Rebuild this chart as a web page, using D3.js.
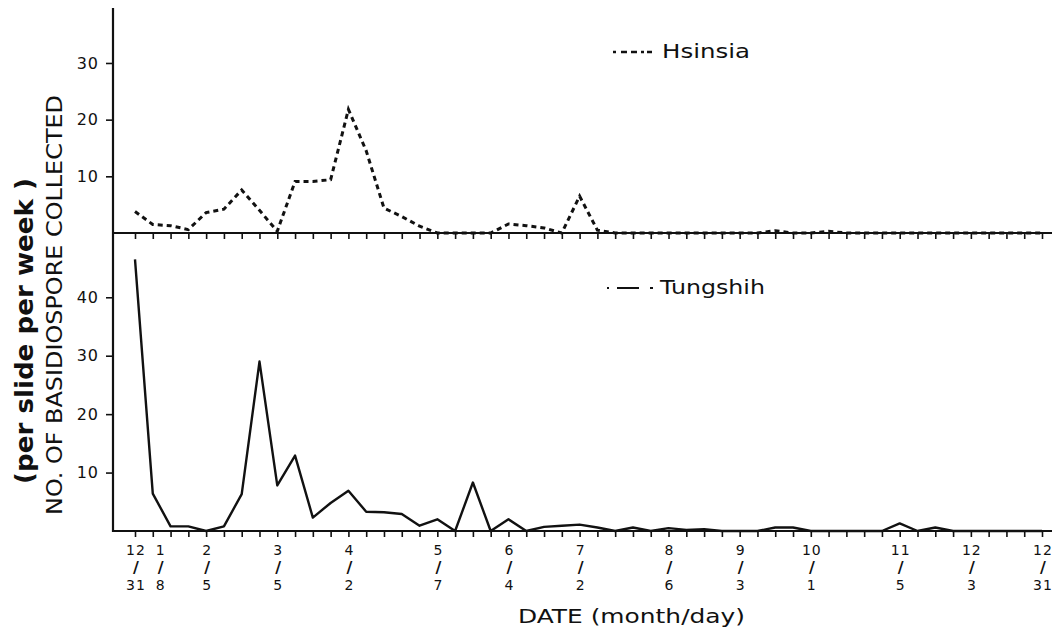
<!DOCTYPE html>
<html>
<head>
<meta charset="utf-8">
<script src="https://cdn.jsdelivr.net/npm/d3@7"></script>
<style>
  body { margin: 0; background: #fff; }
  svg text { font-family: "DejaVu Sans", sans-serif; fill: #111; }
</style>
</head>
<body>
<svg id="chart" width="1056" height="630"></svg>
<script>
// weekly collections, index 0 = 12/31 ... index 51 = 12/31 of the next year
const weeks = d3.range(0, 52);

const hsinsia = [
  3.8, 1.5, 1.3, 0.6, 3.6, 4.2, 7.6, 4.0, 0.3, 9.1,
  9.1, 9.4, 21.8, 14.5, 4.4, 2.9, 1.2, 0, 0, 0,
  0, 1.6, 1.3, 0.9, 0, 6.5, 0.5, 0, 0, 0,
  0, 0, 0, 0, 0, 0, 0.4, 0, 0, 0.3,
  0, 0, 0, 0, 0, 0, 0, 0, 0, 0,
  0, 0
];

const tungshih = [
  46.5, 6.4, 0.8, 0.8, 0, 0.8, 6.3, 29.0, 7.8, 12.9,
  2.3, 4.8, 6.9, 3.3, 3.2, 2.9, 0.9, 2.0, 0, 8.3,
  0, 2.0, 0, 0.7, 0.9, 1.1, 0.6, 0, 0.6, 0,
  0.5, 0.2, 0.3, 0, 0, 0, 0.6, 0.6, 0, 0,
  0, 0, 0, 1.3, 0, 0.6, 0, 0, 0, 0,
  0, 0
];

// date labels under the axis (month / day)
const tickWeeks = [0, 1, 4, 8, 12, 17, 21, 25, 30, 34, 38, 43, 47, 51];
const tickMonth = ["12", "1", "2", "3", "4", "5", "6", "7", "8", "9", "10", "11", "12", "12"];
const tickDay   = ["31", "8", "5", "5", "2", "7", "4", "2", "6", "3", "1", "5", "3", "31"];

const topTicks = [10, 20, 30];
const bottomTicks = [10, 20, 30, 40];

const svg = d3.select("#chart");

const axisX = 113, rightX = 1052;
const x = d3.scaleLinear().domain([0, 51]).range([135, 1042]);
const yTop = d3.scaleLinear().domain([0, 39.7]).range([233, 8]);
const yBot = d3.scaleLinear().domain([0, 51]).range([531, 233]);

// weekly tick marks on both baselines
[yTop, yBot].forEach(y => {
  const g = svg.append("g")
    .attr("transform", `translate(0,${y(0)})`)
    .call(d3.axisBottom(x).tickValues(weeks).tickSize(6).tickSizeOuter(0).tickFormat(""));
  g.select(".domain").remove();
  g.selectAll(".tick line").attr("stroke", "#111").attr("stroke-width", 1.6);
  svg.append("line")
    .attr("x1", axisX).attr("x2", rightX)
    .attr("y1", y(0)).attr("y2", y(0))
    .attr("stroke", "#111").attr("stroke-width", 2);
});

// y axes
[[yTop, topTicks], [yBot, bottomTicks]].forEach(([y, vals]) => {
  const g = svg.append("g")
    .attr("transform", `translate(${axisX},0)`)
    .call(d3.axisLeft(y).tickValues(vals).tickSize(7).tickPadding(7).tickSizeOuter(0));
  g.select(".domain").remove();
  g.selectAll(".tick line").attr("stroke", "#111").attr("stroke-width", 1.6);
  g.selectAll(".tick text")
    .style("font-family", "DejaVu Sans, sans-serif")
    .style("font-size", "16px")
    .style("letter-spacing", "1px")
    .attr("fill", "#111");
});
svg.append("line")
  .attr("x1", axisX).attr("x2", axisX)
  .attr("y1", yTop.range()[1]).attr("y2", yBot(0) + 1)
  .attr("stroke", "#111").attr("stroke-width", 2.2);

// data lines
const lineTop = d3.line().x((d, i) => x(weeks[i])).y(d => yTop(d));
const lineBot = d3.line().x((d, i) => x(weeks[i])).y(d => yBot(d));

svg.append("path")
  .attr("d", lineTop(hsinsia))
  .attr("fill", "none")
  .attr("stroke", "#111")
  .attr("stroke-width", 3)
  .attr("stroke-dasharray", "5,4");

svg.append("path")
  .attr("d", lineBot(tungshih))
  .attr("fill", "none")
  .attr("stroke", "#111")
  .attr("stroke-width", 2.4)
  .attr("stroke-linejoin", "round");

// x labels: month, slash, day
const labelNudge = { 1: 8 };
const lab = svg.append("g").selectAll("g")
  .data(tickWeeks)
  .join("g")
  .attr("transform", (d, i) => `translate(${x(d) + (labelNudge[i] || 1)},0)`);
lab.append("text").attr("y", 555).attr("text-anchor", "middle")
  .style("font-size", "14px").style("letter-spacing", "1px")
  .text((d, i) => tickMonth[i]);
lab.append("text").attr("y", 573).attr("text-anchor", "middle")
  .style("font-size", "16px").style("font-weight", "bold")
  .text("/");
lab.append("text").attr("y", 590).attr("text-anchor", "middle")
  .style("font-size", "14px").style("letter-spacing", "1px")
  .text((d, i) => tickDay[i]);

svg.append("text")
  .attr("x", 518).attr("y", 623)
  .attr("textLength", 227).attr("lengthAdjust", "spacingAndGlyphs")
  .style("font-size", "19px")
  .text("DATE (month/day)");

// y titles
svg.append("text")
  .attr("transform", "translate(62,305) rotate(-90)")
  .attr("text-anchor", "middle")
  .attr("textLength", 420).attr("lengthAdjust", "spacingAndGlyphs")
  .style("font-size", "22px")
  .text("NO. OF BASIDIOSPORE COLLECTED");

svg.append("text")
  .attr("transform", "translate(33,331) rotate(-90)")
  .attr("text-anchor", "middle")
  .attr("textLength", 306).attr("lengthAdjust", "spacingAndGlyphs")
  .style("font-size", "24px")
  .style("font-weight", "bold")
  .text("(per slide per week )");

// legends
svg.append("line")
  .attr("x1", 613).attr("x2", 658).attr("y1", 52).attr("y2", 52)
  .attr("stroke", "#111").attr("stroke-width", 2.5)
  .attr("stroke-dasharray", "3,5,6,4,6,4,3");
svg.append("text")
  .attr("x", 662).attr("y", 58)
  .attr("textLength", 88).attr("lengthAdjust", "spacingAndGlyphs")
  .style("font-size", "19px")
  .text("Hsinsia");

svg.append("line")
  .attr("x1", 607).attr("x2", 653).attr("y1", 288).attr("y2", 288)
  .attr("stroke", "#111").attr("stroke-width", 2.2)
  .attr("stroke-dasharray", "2,8,22,11,3");
svg.append("text")
  .attr("x", 660).attr("y", 294)
  .attr("textLength", 105).attr("lengthAdjust", "spacingAndGlyphs")
  .style("font-size", "19px")
  .text("Tungshih");
</script>
</body>
</html>
